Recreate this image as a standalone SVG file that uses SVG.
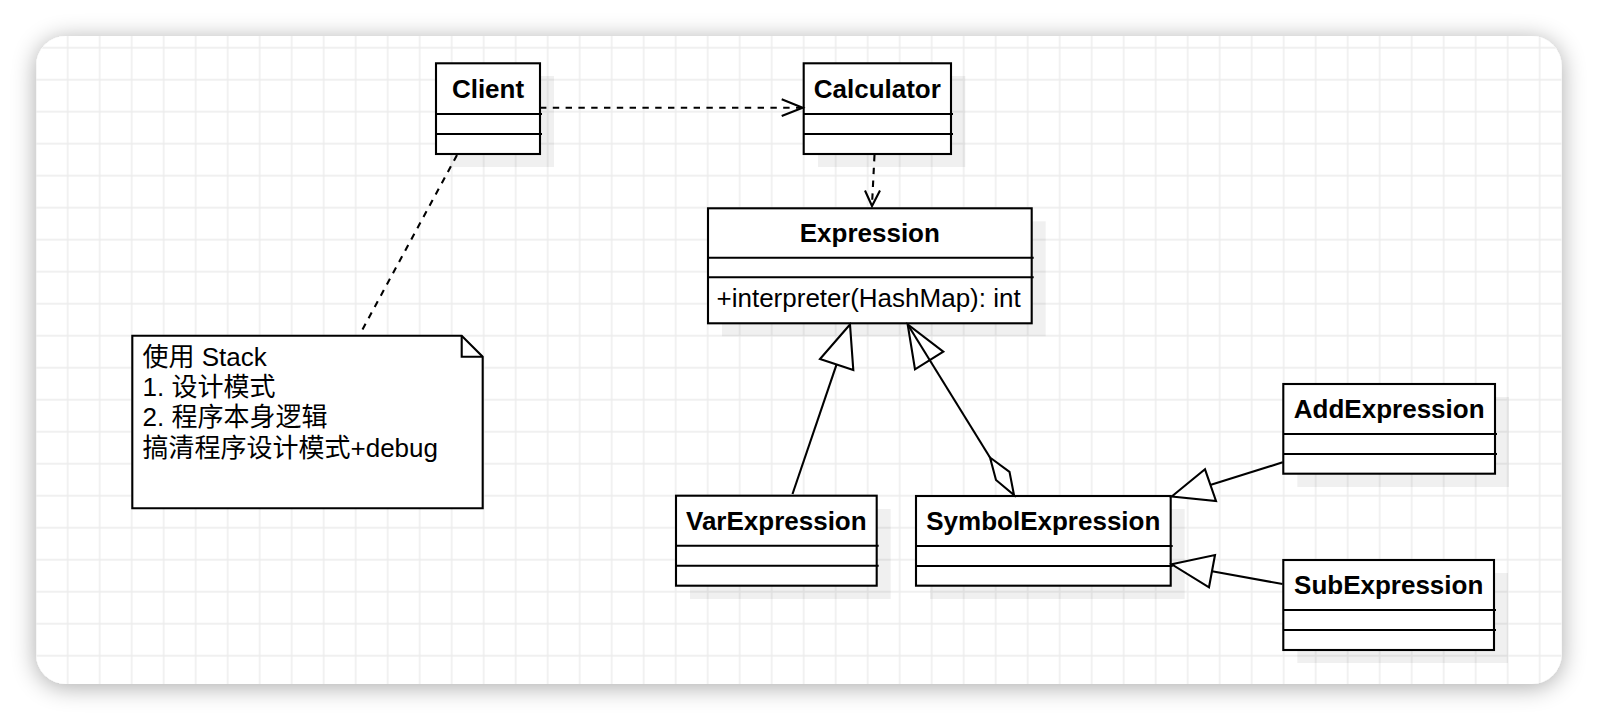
<svg xmlns="http://www.w3.org/2000/svg" width="1598" height="720" viewBox="0 0 1598 720">
<defs>
<filter id="cardShadow" x="-10%" y="-20%" width="120%" height="140%">
<feGaussianBlur in="SourceAlpha" stdDeviation="12"/>
<feOffset dx="0" dy="3" result="b"/>
<feComponentTransfer><feFuncA type="linear" slope="0.34"/></feComponentTransfer>
<feMerge><feMergeNode/><feMergeNode in="SourceGraphic"/></feMerge>
</filter>
<pattern id="grid" patternUnits="userSpaceOnUse" x="51.7" y="31.7" width="32" height="32">
<path d="M16 0V32M0 16H32" stroke="#ececec" stroke-width="1.4" fill="none"/>
</pattern>
<clipPath id="cardClip"><rect x="36" y="36" width="1525.7" height="648" rx="30"/></clipPath>
<style>
.box{fill:#fff;stroke:#000;stroke-width:2.1}
.shadow{fill:#000;fill-opacity:0.06;stroke:none}
.div{stroke:#000;stroke-width:2.1;fill:none}
.title{font-family:"Liberation Sans",Arial,sans-serif;font-weight:bold;font-size:26px;fill:#000;text-anchor:middle}
.txt{font-family:"Liberation Sans",Arial,"Noto Sans CJK SC",sans-serif;font-size:26px;fill:#000}
.edge{stroke:#000;stroke-width:2.1;fill:none}
.dash{stroke-dasharray:6.4 6.4}
.head{stroke:#000;stroke-width:2.1;fill:#fff;stroke-linejoin:miter}
</style>
</defs>
<rect width="1598" height="720" fill="#fff"/>
<rect x="36" y="36" width="1525.7" height="648" rx="30" fill="#fff" filter="url(#cardShadow)"/>
<rect x="36" y="36" width="1525.7" height="648" rx="30" fill="url(#grid)" clip-path="url(#cardClip)"/>

<g id="note">
<path class="box" d="M132.3 335.7H461.7L482.7 356.7V508.3H132.3Z"/>
<path class="div" d="M461.7 335.7V356.7H482.7"/>
<text class="txt" x="142.5" y="366">使用 Stack</text>
<text class="txt" x="142.5" y="396">1. 设计模式</text>
<text class="txt" x="142.5" y="426">2. 程序本身逻辑</text>
<text class="txt" x="142.5" y="457">搞清程序设计模式+debug</text>
</g>

<g id="Client">
<rect class="shadow" x="450" y="76" width="104" height="91"/>
<rect class="box" x="436" y="63.3" width="104" height="90.7"/>
<path class="div" d="M436 114H542M436 134H542"/>
<text class="title" x="488" y="97.5">Client</text>
</g>

<g id="Calculator">
<rect class="shadow" x="818" y="76" width="147.3" height="91"/>
<rect class="box" x="803.7" y="63.3" width="147.3" height="90.7"/>
<path class="div" d="M803.7 114H953M803.7 134H953"/>
<text class="title" x="877.3" y="97.5">Calculator</text>
</g>

<g id="Expression">
<rect class="shadow" x="722" y="221.3" width="323.7" height="115"/>
<rect class="box" x="708" y="208.3" width="323.7" height="115"/>
<path class="div" d="M708 257.7H1033.7M708 277.3H1033.7"/>
<text class="title" x="869.8" y="241.5">Expression</text>
<text class="txt" x="716.5" y="306.7">+interpreter(HashMap): int</text>
</g>

<g id="VarExpression">
<rect class="shadow" x="690" y="509" width="200.7" height="90"/>
<rect class="box" x="676" y="495.7" width="200.7" height="90"/>
<path class="div" d="M676 545.7H878.7M676 565.7H878.7"/>
<text class="title" x="776.3" y="530">VarExpression</text>
</g>

<g id="SymbolExpression">
<rect class="shadow" x="930" y="509" width="254.7" height="90"/>
<rect class="box" x="916" y="496" width="254.7" height="89.7"/>
<path class="div" d="M916 546H1172.7M916 566H1172.7"/>
<text class="title" x="1043.3" y="530">SymbolExpression</text>
</g>

<g id="AddExpression">
<rect class="shadow" x="1297.3" y="397" width="211.7" height="90"/>
<rect class="box" x="1283.3" y="384" width="211.7" height="89.7"/>
<path class="div" d="M1283.3 434H1497M1283.3 454H1497"/>
<text class="title" x="1389.2" y="418">AddExpression</text>
</g>

<g id="SubExpression">
<rect class="shadow" x="1297.3" y="573" width="210.7" height="90"/>
<rect class="box" x="1283.3" y="560" width="210.7" height="90"/>
<path class="div" d="M1283.3 610H1496M1283.3 630H1496"/>
<text class="title" x="1388.7" y="594">SubExpression</text>
</g>

<g id="connectors">
<path class="edge dash" d="M540 107.7H801"/>
<path class="edge" d="M781.7 99.3L802.7 107.7L781.7 116"/>
<path class="edge dash" d="M874.5 155L872 205"/>
<path class="edge" d="M865 190.5L872 206L880 190.5"/>
<path class="edge dash" d="M457 155L359.5 335"/>
<path class="edge" d="M792.5 494L836.5 364.7"/>
<path class="head" d="M850 324.5L820 359L853.3 370Z"/>
<path class="head" d="M907.7 324.5L915 369.3L943.3 351.7Z"/>
<path class="edge" d="M907.7 324.5L990 457.5"/>
<path class="head" d="M990 457.5L996 480L1014 495L1009.5 471.8Z"/>
<path class="edge" d="M1282.7 462.3L1211 484.8"/>
<path class="head" d="M1171.7 496.5L1205 469.3L1216 501Z"/>
<path class="edge" d="M1282.5 584L1212 571.2"/>
<path class="head" d="M1171.7 564.3L1215 555L1209 587.3Z"/>
</g>
</svg>
